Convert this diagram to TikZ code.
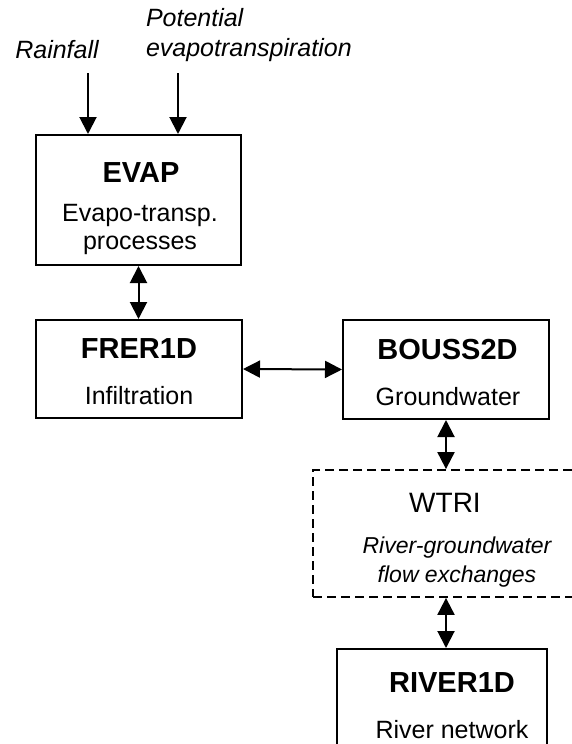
\documentclass[tikz,border=0pt]{standalone}
\usepackage{fontspec}
\setmainfont{Liberation Sans}
\usetikzlibrary{arrows.meta,positioning}

\begin{document}
\begin{tikzpicture}[x=1pt,y=-1pt,
    line width				= 2pt,
    modbox/.style={rectangle, draw=black, line width=2pt, inner sep=0pt},
    linkbox/.style={modbox, line width=1.8pt, dash pattern=on 9pt off 5pt},
    modname/.style={font=\fontsize{29}{34}\selectfont\bfseries, inner sep=0pt},
    moddescr/.style={font=\fontsize{25}{28}\selectfont, align=center, inner sep=0pt},
    input/.style={font=\fontsize{25}{30}\selectfont\itshape, align=left, inner sep=0pt},
    %conn/.style={very thick, ->},
    conn/.style={draw, line width=2pt, -{Triangle[length=17pt,width=17pt]}},
    biconn/.style={conn, {Triangle[length=17pt,width=17pt]}-{Triangle[length=17pt,width=17pt]}},
    ]

\useasboundingbox (0,0) rectangle (572,744);

% forcing
\node[input] (rain) at (57,50) {Rainfall};
\node[input, anchor=west] (pet) at (145,35) {Potential\\evapotranspiration};
\coordinate (rain-in) at (88,73);
\coordinate (pet-in) at (178,73);

% modules
\node[modbox, minimum width=205pt, minimum height=130pt] (evap) at (138.5,200) {};
\node[modname] (evap-name) at (141,173) {EVAP};
\node[moddescr] (evap-descr) at (140,229) {Evapo-transp.\\processes};

\node[modbox, minimum width=206pt, minimum height=98pt] (frer) at (139,369) {};
\node[modname] (frer-name) at (139,349) {FRER1D};
\node[moddescr] (frer-descr) at (139,396) {Infiltration};

\node[modbox, minimum width=206pt, minimum height=99pt] (bouss) at (446,369.5) {};
\node[modname] (bouss-name) at (447.5,350) {BOUSS2D};
\node[moddescr] (bouss-descr) at (448,397) {Groundwater};

% coupling interface
\node[linkbox, minimum width=262pt, minimum height=127pt] (wtri) at (444,533.5) {};
\node[moddescr, font=\fontsize{28}{32}\selectfont] (wtri-name) at (445,503) {WTRI};
\node[moddescr, font=\fontsize{23}{29}\selectfont\itshape] (wtri-descr) at (457,562) {River-groundwater\\flow exchanges};

\node[modbox, minimum width=210pt, minimum height=110pt] (river) at (442,704) {};
\node[modname] (river-name) at (452,683) {RIVER1D};
\node[moddescr] (river-descr) at (452,730) {River network};

% exchanges
\draw[conn] (rain-in) -- (rain-in |- evap.north);
\draw[conn] (pet-in) -- (pet-in |- evap.north);
\draw[biconn] (evap.south) -- (evap.south |- frer.north);
\draw[biconn] (frer.east) -- (bouss.west);
\draw[biconn] (bouss.south) -- (bouss.south |- wtri.north);
\draw[biconn] (bouss.south |- wtri.south) -- (bouss.south |- river.north);

\end{tikzpicture}
\end{document}
